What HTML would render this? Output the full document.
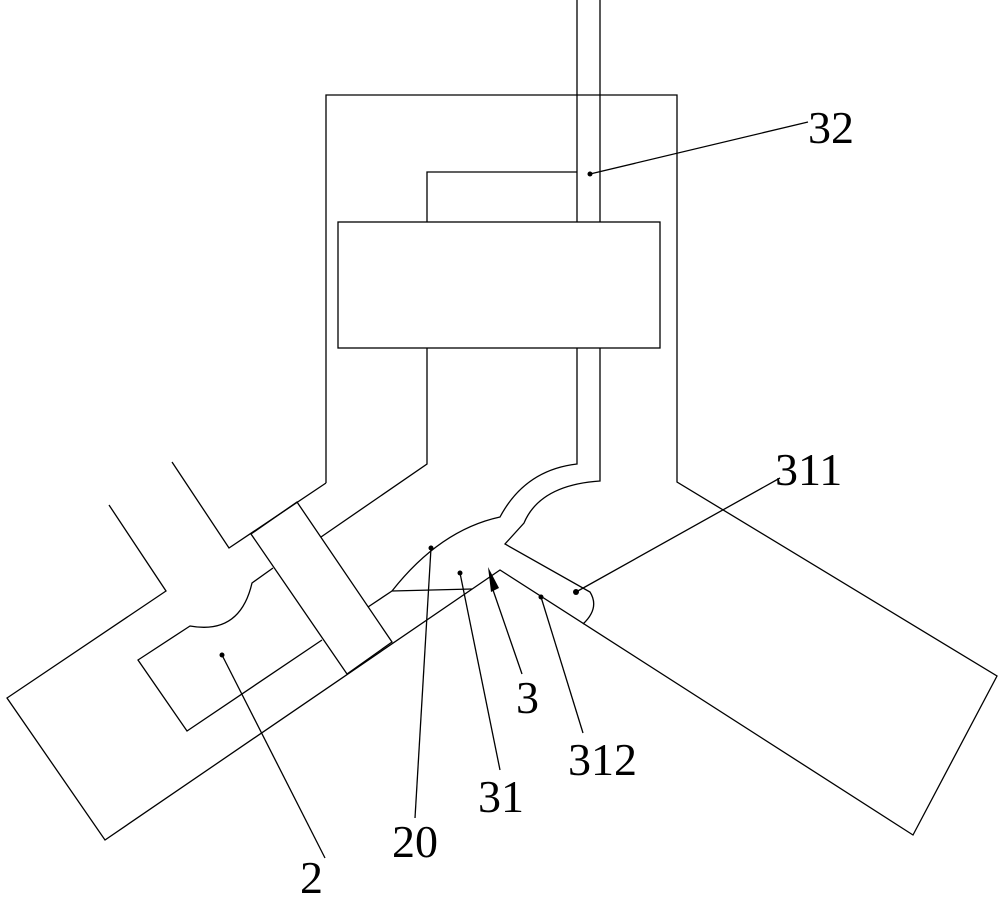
<!DOCTYPE html>
<html><head><style>
html,body{margin:0;padding:0;background:#fff;}
svg{display:block;}
text{font-family:"Liberation Serif",serif;font-size:46px;fill:#000;}
</style></head><body>
<svg width="1000" height="910" viewBox="0 0 1000 910" xmlns="http://www.w3.org/2000/svg">
<g fill="none" stroke="#000" stroke-width="1.3">
<!-- outer housing -->
<polyline points="326,483 326,95 677,95 677,482 997,676 913,835 500,570 105,840 7,698 166,591 109,505"/>
<polyline points="172,462 229,548 326,483"/>
<!-- inner pipe / box -->
<polyline points="577,0 577,222"/>
<polyline points="600,0 600,222"/>
<polyline points="427,222 427,172 577,172"/>
<rect x="338" y="222" width="322" height="126"/>
<polyline points="427,348 427,464 321,537"/>
<path d="M577,348 L577,464 Q525,470 500,517 Q440,530 392,591"/>
<path d="M600,348 L600,481 Q540,485 524,523 L505,544 L590,592 Q600,608 583,624"/>
<!-- plate -->
<polygon points="251,534 297,502 392,642 347,674"/>
<!-- cavity -->
<path d="M273,568 L252,583 Q240,635 190,626 L138,660 L187,731 L322,640"/>
<!-- channel -->
<polyline points="368,607 392,591 472,589"/>
<!-- leaders -->
<line x1="590" y1="174" x2="808" y2="122"/>
<line x1="576" y1="592" x2="780" y2="478"/>
<line x1="541" y1="597" x2="583" y2="733"/>
<line x1="460" y1="573" x2="500" y2="770"/>
<line x1="431" y1="548" x2="415" y2="818"/>
<line x1="222" y1="655" x2="325" y2="858"/>
<line x1="493" y1="590" x2="522" y2="674"/>
</g>
<g fill="#000">
<polygon points="488,567 499,588 491,592"/>
<circle cx="590" cy="174" r="2.5"/>
<circle cx="576" cy="592" r="3"/>
<circle cx="541" cy="597" r="2.5"/>
<circle cx="460" cy="573" r="2.5"/>
<circle cx="431" cy="548" r="2.5"/>
<circle cx="222" cy="655" r="2.5"/>
</g>
<text x="808" y="143">32</text>
<text x="775" y="485">311</text>
<text x="516" y="713">3</text>
<text x="568" y="775">312</text>
<text x="478" y="812">31</text>
<text x="392" y="857">20</text>
<text x="300" y="893">2</text>
</svg>
</body></html>
